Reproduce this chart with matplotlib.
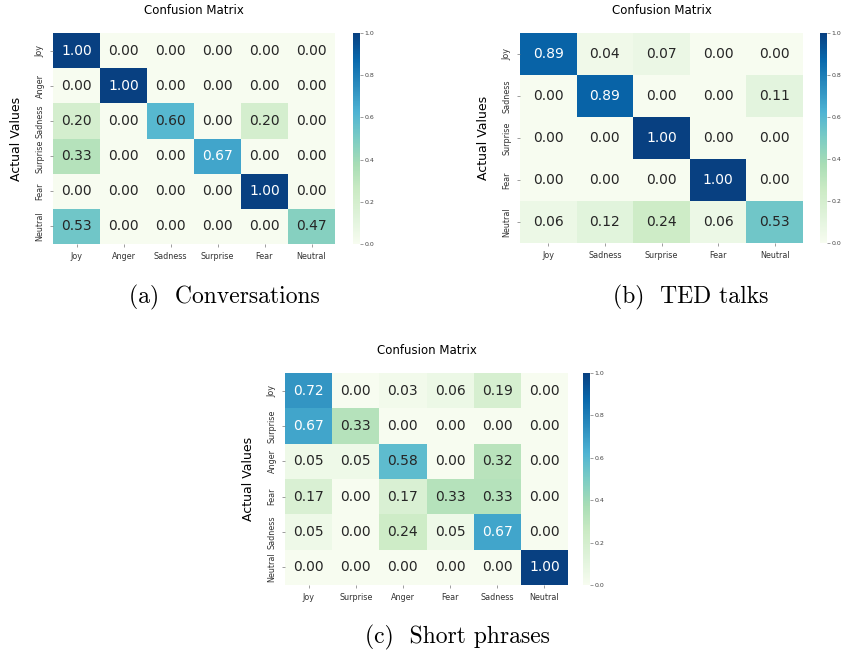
#!/usr/bin/env python3

import matplotlib
matplotlib.use('Agg')
import matplotlib.pyplot as plt
import numpy as np
import seaborn as sns

# confusion matrices
conv_labels = ['Joy', 'Anger', 'Sadness', 'Surprise', 'Fear', 'Neutral']
conv_values = [
    [1.00, 0.00, 0.00, 0.00, 0.00, 0.00],
    [0.00, 1.00, 0.00, 0.00, 0.00, 0.00],
    [0.20, 0.00, 0.60, 0.00, 0.20, 0.00],
    [0.33, 0.00, 0.00, 0.67, 0.00, 0.00],
    [0.00, 0.00, 0.00, 0.00, 1.00, 0.00],
    [0.53, 0.00, 0.00, 0.00, 0.00, 0.47],
]

ted_labels = ['Joy', 'Sadness', 'Surprise', 'Fear', 'Neutral']
ted_values = [
    [0.89, 0.04, 0.07, 0.00, 0.00],
    [0.00, 0.89, 0.00, 0.00, 0.11],
    [0.00, 0.00, 1.00, 0.00, 0.00],
    [0.00, 0.00, 0.00, 1.00, 0.00],
    [0.06, 0.12, 0.24, 0.06, 0.53],
]

phrase_labels = ['Joy', 'Surprise', 'Anger', 'Fear', 'Sadness', 'Neutral']
phrase_values = [
    [0.72, 0.00, 0.03, 0.06, 0.19, 0.00],
    [0.67, 0.33, 0.00, 0.00, 0.00, 0.00],
    [0.05, 0.05, 0.58, 0.00, 0.32, 0.00],
    [0.17, 0.00, 0.17, 0.33, 0.33, 0.00],
    [0.05, 0.00, 0.24, 0.05, 0.67, 0.00],
    [0.00, 0.00, 0.00, 0.00, 0.00, 1.00],
]

cbar_ticks = [0.0, 0.2, 0.4, 0.6, 0.8, 1.0]

W, H = 843, 653


def px_rect(x0, y0, x1, y1):
    # pixel box (top-left origin) -> figure fraction rect
    return [x0 / W, 1 - y1 / H, (x1 - x0) / W, (y1 - y0) / H]


def draw_panel(fig, values, labels, ax_box, cbar_box, caption, caption_xy):
    ax = fig.add_axes(px_rect(*ax_box))
    cax = fig.add_axes(px_rect(*cbar_box))
    sns.heatmap(np.array(values), ax=ax, cbar_ax=cax, cmap='GnBu',
                vmin=0, vmax=1, annot=True, fmt='.2f',
                annot_kws={'fontsize': 10},
                xticklabels=labels, yticklabels=labels)
    ax.set_title('Confusion Matrix', fontsize=8.5, pad=14)
    ax.set_ylabel('Actual Values', fontsize=9)
    ax.yaxis.set_label_coords(-0.105, 0.5)
    ax.tick_params(length=2, width=0.5, color='#777777', labelsize=5.8,
                   labelcolor='#333333', pad=4)
    plt.setp(ax.get_yticklabels(), rotation=90, va='center')
    plt.setp(ax.get_xticklabels(), rotation=0)

    cax.set_yticks(cbar_ticks)
    cax.tick_params(length=2, width=0.5, color='#777777', labelsize=4.5,
                    labelcolor='#444444', pad=1)

    fig.text(caption_xy[0] / W, 1 - caption_xy[1] / H, caption,
             family='cmr10', fontsize=17, ha='center', va='center')


def main():
    fig = plt.figure(figsize=(W / 100, H / 100), dpi=100)

    draw_panel(fig, conv_values, conv_labels,
               (53, 33, 335, 244), (353, 33, 360, 244),
               '(a)  Conversations', (224, 297))
    draw_panel(fig, ted_values, ted_labels,
               (520, 33, 803, 243), (820, 33, 827, 243),
               '(b)  TED talks', (691, 297))
    draw_panel(fig, phrase_values, phrase_labels,
               (285, 373, 568, 585), (583, 373, 590, 585),
               '(c)  Short phrases', (457, 637))

    fig.savefig('out.png', dpi=100)


if __name__ == '__main__':
    main()
